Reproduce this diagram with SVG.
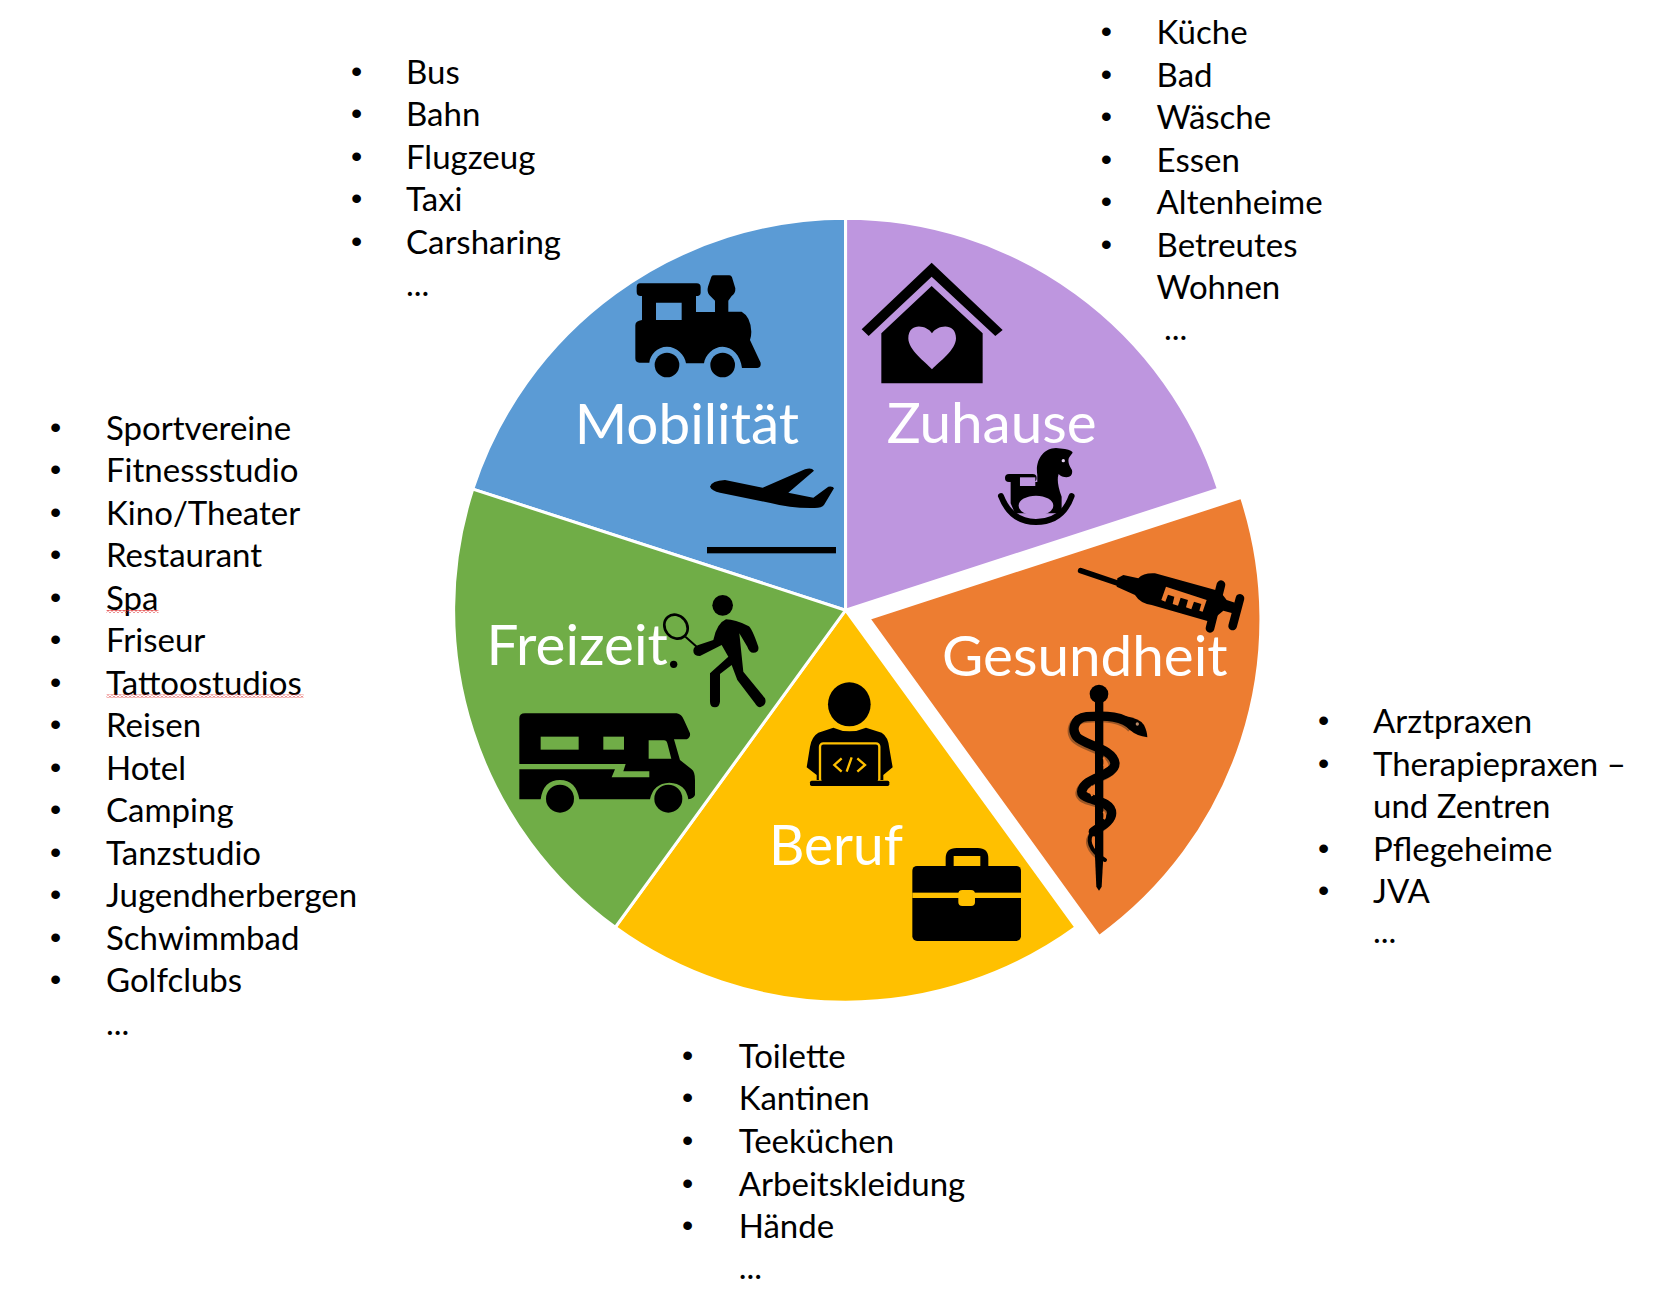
<svg xmlns="http://www.w3.org/2000/svg" width="1672" height="1300" viewBox="0 0 1672 1300">
<style>
text{font-family:"Lato","Liberation Sans",sans-serif}
.t{font-size:33px;fill:#000}
.b{font-size:32px;fill:#000;font-family:"Liberation Sans",sans-serif}
.l{font-size:56.6px;fill:#fff}
.s{stroke:#fff;stroke-width:3}
.k{fill:#000}
.ln{fill:none;stroke:#000;stroke-linecap:round;stroke-linejoin:round}
</style>
<defs>
<pattern id="wave" width="4" height="3" patternUnits="userSpaceOnUse"><path d="M0 2.2L2 .6L4 2.2" fill="none" stroke="#d22" stroke-width="1"/></pattern>
</defs>
<rect width="1672" height="1300" fill="#fff"/>

<g id="mobilitaet">
<path class="s" fill="#5B9BD5" d="M845.600 610.200L472.800 489.100A392 392 0 0 1 845.600 218.200Z"/>
<g transform="translate(620 260) scale(.3333)">
<path class="k" fill-rule="evenodd" d="M60 70H230Q242 70 242 82V98Q242 108 228 108V156H285V122L268 105Q260 95 264 80L274 50Q276 46 282 46H328Q334 46 336 52L346 85Q347 100 335 108L325 122V155H365Q392 170 394 215Q394 230 390 240L422 308Q424 322 412 324H366C362 285 335 260 308 260C280 260 255 285 252 310H198C195 285 170 260 141 260C112 260 90 285 88 308H58Q46 308 46 295V196Q46 183 66 180V108H62Q50 108 50 95V82Q50 70 60 70ZM108 128V180H185V128Z"/>
<circle class="k" cx="141" cy="315" r="37"/><circle class="k" cx="308" cy="315" r="37"/>
</g>
<g transform="translate(700 440) scale(.3333)">
<path class="k" d="M30 140Q35 122 75 120L188 143L315 88Q335 82 342 92L265 158L340 173L385 140Q400 138 402 145L372 195Q365 205 340 204Q270 205 215 190L60 158Q35 152 30 140Z"/>
<rect class="k" x="21" y="321" width="387" height="19"/>
</g>
<text class="l" x="574.700" y="444">Mobilität</text>
</g>

<g id="zuhause">
<path class="s" fill="#BE96DF" d="M845.600 610.200V218.200A392 392 0 0 1 1218.400 489.100Z"/>
<g transform="translate(850 250) scale(.3333)">
<path class="k" d="M245 38L458 240L436 258L245 80L56 258L35 238Z"/>
<path class="k" fill-rule="evenodd" d="M245 108L398 250V400H94V250ZM246 250C232 225 175 215 175 265C175 300 225 335 246 358C268 335 318 300 318 265C318 215 260 225 246 250Z"/>
</g>
<g transform="translate(700 440) scale(.3333)">
<path class="k" d="M1012 105C1005 60 1030 25 1068 24L1095 27Q1118 32 1118 38L1108 52Q1100 65 1116 90Q1120 110 1100 112Q1085 112 1076 102Q1068 125 1085 170V220H945L932 190V126H1012Z"/>
<rect class="k" x="915" y="102" width="95" height="24" rx="12"/>
<rect x="960" y="112" width="46" height="26" fill="#BE96DF"/>
<path class="ln" stroke-width="18" d="M903 168C925 225 965 246 1008 246C1055 246 1095 225 1115 168"/>
<ellipse cx="1008" cy="197" rx="52" ry="30" fill="#BE96DF"/>
<circle cx="1090" cy="62" r="5" fill="#e4d3f2"/>
</g>
<text class="l" x="886.700" y="443">Zuhause</text>
</g>

<g id="gesundheit">
<path class="s" fill="#ED7D31" d="M868.700 618.500L1241.500 497.400A392 392 0 0 1 1099.100 936.600Z"/>
<g transform="translate(1060 550) scale(.3333)">
<path class="ln" stroke-width="17" d="M62 62L175 100"/>
<path class="k" d="M172 85L190 75L235 85Q250 68 285 70L480 124L500 150L525 158L518 190L490 182L450 215L275 165Q240 160 225 135L170 110Z"/>
<path class="ln" stroke-width="26" d="M483 104L450 235M540 145L518 228"/>
<path d="M318 110L440 150L428 185L418 182L424 162L402 155L394 178L378 172L384 150L362 143L354 167L338 162L343 140L324 134L316 155L304 150Z" fill="#ED7D31"/>
</g>
<g transform="translate(1050 680) scale(.3333)">
<g id="asc-shadow" transform="translate(-5 5)" opacity=".45" fill="none" stroke="#3a2a1a"><path stroke-width="28" d="M250 140C220 108 170 105 110 110C70 115 65 150 80 170C100 195 190 205 195 250C195 290 100 290 95 335C95 365 185 355 185 400C185 425 150 440 130 455"/><path stroke-width="12" d="M130 455C110 475 115 510 165 540"/></g>
<circle class="k" cx="147" cy="42" r="28"/>
<path class="k" d="M135 60H160V530L155 620L147 632L139 620L135 530Z"/>
<path class="ln" stroke-width="28" d="M250 140C220 108 170 105 110 110C70 115 65 150 80 170C100 195 190 205 195 250C195 290 100 290 95 335C95 365 185 355 185 400C185 425 150 440 130 455"/>
<path class="ln" stroke-width="12" d="M130 455C110 475 115 510 165 540"/>
<path class="k" d="M225 108Q270 115 282 135Q292 155 292 172Q260 168 240 150L225 135Z"/>
<circle cx="262" cy="132" r="5" fill="#b98a68"/>
<path d="M160 232Q170 245 162 258M127 318Q118 332 127 348M160 395Q170 405 162 418" fill="none" stroke="#ED7D31" stroke-width="6"/>
</g>
<text class="l" x="942" y="676">Gesundheit</text>
</g>

<g id="beruf">
<path class="s" fill="#FFC000" d="M845.600 610.200L1076 927.300A392 392 0 0 1 615.200 927.300Z"/>
<g transform="translate(800 680) scale(.3333)">
<ellipse class="k" cx="148" cy="73" rx="64" ry="66"/>
<path class="k" d="M100 143Q148 165 198 143L245 158Q265 170 268 205L278 262L250 285V300H50V285L20 262L30 200Q35 170 55 158Z"/>
<rect x="60" y="190" width="178" height="118" rx="10" fill="#000" stroke="#FFC000" stroke-width="7"/>
<rect class="k" x="30" y="302" width="238" height="16" rx="5"/>
<path d="M125 235L103 255L125 275M155 232L140 275M172 235L195 255L172 275" fill="none" stroke="#FFC000" stroke-width="7"/>
</g>
<g transform="translate(905 840) scale(.3333)">
<path class="k" d="M122 80V55Q122 24 155 24H218Q250 24 250 55V80H226V48H146V80Z"/>
<rect class="k" x="22" y="78" width="326" height="225" rx="14"/>
<rect x="22" y="158" width="326" height="16" fill="#FFC000"/>
<rect x="160" y="150" width="50" height="48" rx="12" fill="#FFC000"/>
</g>
<text class="l" x="769" y="865" textLength="134" lengthAdjust="spacingAndGlyphs">Beruf</text>
</g>

<g id="freizeit">
<path class="s" fill="#70AD47" d="M845.600 610.200L615.200 927.300A392 392 0 0 1 472.800 489.100Z"/>
<g transform="translate(510 700) scale(.3333)">
<path class="k" d="M28 55Q28 40 45 40H500Q515 42 522 60L540 100Q542 112 530 118H492L510 180L545 208Q555 215 555 240V285Q552 295 535 298Q528 250 478 248Q430 250 420 298H208Q198 240 150 240Q100 240 92 298H28V208H315L305 232H418V214H340L347 192H28Z"/>
<g fill="#70AD47"><rect x="92" y="110" width="114" height="39"/><rect x="280" y="110" width="62" height="39"/><path d="M416 121H462Q470 121 472 130L484 176H416Z"/></g>
<circle class="k" cx="150" cy="296" r="42"/><circle class="k" cx="475" cy="296" r="42"/>
</g>
<text class="l" x="486.500" y="665">Freizeit</text>
<g transform="translate(650 590) scale(.3333)">
<circle class="k" cx="218" cy="46" r="31"/>
<path class="k" d="M228 88Q255 88 295 108Q305 112 325 170Q328 188 310 188Q298 188 292 170L268 130L280 245L345 325Q352 345 330 352Q322 352 315 340L262 270L245 225L210 252V335Q208 352 195 352Q180 352 180 335V250L235 200L215 165L150 198Q130 198 130 182Q130 170 145 165L190 150Q200 100 228 88Z"/>
<ellipse cx="78" cy="110" rx="33" ry="38" transform="rotate(-40 78 110)" fill="none" stroke="#000" stroke-width="8"/>
<path class="ln" stroke-width="6" d="M108 142L140 170"/>
<circle class="k" cx="71" cy="223" r="11"/>
</g>
</g>

<g id="liste-mobilitaet">
<text class="b" x="351" y="81.500">•</text><text class="t" x="406" y="83.500">Bus</text>
<text class="b" x="351" y="124">•</text><text class="t" x="406" y="126">Bahn</text>
<text class="b" x="351" y="166.500">•</text><text class="t" x="406" y="168.500">Flugzeug</text>
<text class="b" x="351" y="209">•</text><text class="t" x="406" y="211">Taxi</text>
<text class="b" x="351" y="251.500">•</text><text class="t" x="406" y="253.500">Carsharing</text>
<text class="t" x="406" y="296">...</text>
</g>
<g id="liste-zuhause">
<text class="b" x="1100.800" y="42">•</text><text class="t" x="1156.600" y="44">Küche</text>
<text class="b" x="1100.800" y="84.500">•</text><text class="t" x="1156.600" y="86.500">Bad</text>
<text class="b" x="1100.800" y="127">•</text><text class="t" x="1156.600" y="129">Wäsche</text>
<text class="b" x="1100.800" y="169.500">•</text><text class="t" x="1156.600" y="171.500">Essen</text>
<text class="b" x="1100.800" y="212">•</text><text class="t" x="1156.600" y="214">Altenheime</text>
<text class="b" x="1100.800" y="254.500">•</text><text class="t" x="1156.600" y="256.500">Betreutes</text>
<text class="t" x="1156.600" y="299">Wohnen</text>
<text class="t" x="1164" y="339.700">...</text>
</g>
<g id="liste-freizeit">
<text class="b" x="50" y="437.500">•</text><text class="t" x="106" y="439.500">Sportvereine</text>
<text class="b" x="50" y="480">•</text><text class="t" x="106" y="482">Fitnessstudio</text>
<text class="b" x="50" y="522.500">•</text><text class="t" x="106" y="524.500">Kino/Theater</text>
<text class="b" x="50" y="565">•</text><text class="t" x="106" y="567">Restaurant</text>
<text class="b" x="50" y="607.500">•</text><text class="t" x="106" y="609.500">Spa</text>
<text class="b" x="50" y="650">•</text><text class="t" x="106" y="652">Friseur</text>
<text class="b" x="50" y="692.500">•</text><text class="t" x="106" y="694.500">Tattoostudios</text>
<text class="b" x="50" y="735">•</text><text class="t" x="106" y="737">Reisen</text>
<text class="b" x="50" y="777.500">•</text><text class="t" x="106" y="779.500">Hotel</text>
<text class="b" x="50" y="820">•</text><text class="t" x="106" y="822">Camping</text>
<text class="b" x="50" y="862.500">•</text><text class="t" x="106" y="864.500">Tanzstudio</text>
<text class="b" x="50" y="905">•</text><text class="t" x="106" y="907">Jugendherbergen</text>
<text class="b" x="50" y="947.500">•</text><text class="t" x="106" y="949.500">Schwimmbad</text>
<text class="b" x="50" y="990">•</text><text class="t" x="106" y="992">Golfclubs</text>
<text class="t" x="106" y="1034.500">...</text>
<rect x="106.500" y="610" width="52" height="3" fill="url(#wave)"/>
<rect x="106.500" y="694.500" width="197" height="3" fill="url(#wave)"/>
</g>
<g id="liste-gesundheit">
<text class="b" x="1318" y="731">•</text><text class="t" x="1373" y="733">Arztpraxen</text>
<text class="b" x="1318" y="773.500">•</text><text class="t" x="1373" y="775.500">Therapiepraxen –</text>
<text class="t" x="1373" y="818">und Zentren</text>
<text class="b" x="1318" y="858.500">•</text><text class="t" x="1373" y="860.500">Pflegeheime</text>
<text class="b" x="1318" y="901">•</text><text class="t" x="1373" y="903">JVA</text>
<text class="t" x="1373" y="943">...</text>
</g>
<g id="liste-beruf">
<text class="b" x="682" y="1065.700">•</text><text class="t" x="738.700" y="1067.700">Toilette</text>
<text class="b" x="682" y="1108.300">•</text><text class="t" x="738.700" y="1110.300">Kantinen</text>
<text class="b" x="682" y="1150.900">•</text><text class="t" x="738.700" y="1152.900">Teeküchen</text>
<text class="b" x="682" y="1193.500">•</text><text class="t" x="738.700" y="1195.500">Arbeitskleidung</text>
<text class="b" x="682" y="1236.100">•</text><text class="t" x="738.700" y="1238.100">Hände</text>
<text class="t" x="738.700" y="1279">...</text>
</g>
</svg>
